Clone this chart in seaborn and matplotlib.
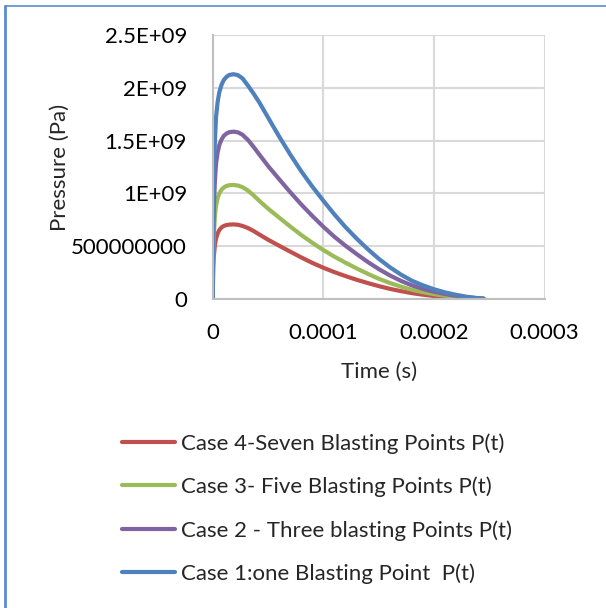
import matplotlib
matplotlib.use('Agg')
import matplotlib.pyplot as plt
import matplotlib.lines as mlines
import seaborn as sns
import pandas as pd

# time in units of 1e-5 s
t_e5 = [0, 0.05, 0.1, 0.2, 0.3, 0.45, 0.6, 0.8, 1.0, 1.25, 1.5, 1.9, 2.3, 2.7, 3.2, 3.7,
        4.2, 5, 6, 7, 8, 9, 10, 11, 12, 13, 14, 15, 16, 17, 18, 19, 20, 21, 22, 23, 24, 24.5]

# pressure in units of 1e9 Pa
case1 = [0, 0.85, 1.15, 1.5, 1.72, 1.87, 1.96, 2.03, 2.075, 2.105, 2.123, 2.13, 2.12, 2.09,
         2.02, 1.945, 1.865, 1.72, 1.54, 1.37, 1.21, 1.065, 0.93, 0.80, 0.68, 0.572, 0.472,
         0.38, 0.30, 0.23, 0.171, 0.127, 0.09, 0.06, 0.037, 0.018, 0.005, 0]
case2 = [0, 0.6, 0.85, 1.12, 1.28, 1.39, 1.46, 1.51, 1.545, 1.567, 1.58, 1.585, 1.578, 1.555,
         1.505, 1.44, 1.37, 1.26, 1.135, 1.012, 0.895, 0.786, 0.683, 0.588, 0.503, 0.425,
         0.35, 0.282, 0.222, 0.17, 0.127, 0.093, 0.066, 0.044, 0.027, 0.013, 0.004, 0]
case3 = [0, 0.42, 0.6, 0.78, 0.88, 0.955, 1.0, 1.035, 1.055, 1.07, 1.077, 1.079, 1.073, 1.058,
         1.025, 0.98, 0.93, 0.855, 0.77, 0.686, 0.605, 0.531, 0.462, 0.399, 0.342, 0.288,
         0.237, 0.19, 0.15, 0.115, 0.085, 0.062, 0.043, 0.028, 0.017, 0.008, 0.002, 0]
case4 = [0, 0.3, 0.4, 0.51, 0.57, 0.62, 0.652, 0.677, 0.69, 0.699, 0.703, 0.705, 0.701, 0.69,
         0.67, 0.642, 0.61, 0.56, 0.503, 0.447, 0.392, 0.34, 0.294, 0.252, 0.215, 0.18,
         0.149, 0.12, 0.094, 0.072, 0.053, 0.038, 0.026, 0.017, 0.01, 0.005, 0.001, 0]

labels = ['Case 4-Seven Blasting Points P(t)',
          'Case 3- Five Blasting Points P(t)',
          'Case 2 - Three blasting Points P(t)',
          'Case 1:one Blasting Point  P(t)']
colors = ['#C0504D', '#9BBB59', '#8064A2', '#4F81BD']

x_ticks = [0, 0.0001, 0.0002, 0.0003]
x_tick_labels = ['0', '0.0001', '0.0002', '0.0003']
y_ticks = [0, 0.5e9, 1e9, 1.5e9, 2e9, 2.5e9]
y_tick_labels = ['0', '500000000', '1E+09', '1.5E+09', '2E+09', '2.5E+09']

rows = []
for lab, vals in zip(labels, [case4, case3, case2, case1]):
    for t, p in zip(t_e5, vals):
        rows.append({'time': t * 1e-5, 'pressure': p * 1e9, 'case': lab})
df = pd.DataFrame(rows)

sns.set_style('white')
plt.rcParams['font.family'] = ['Lato', 'DejaVu Sans']
fs = 16

fig = plt.figure(figsize=(6.06, 6.08), dpi=100)
ax = fig.add_axes([212.7 / 606, 1 - 298.7 / 608, (544.5 - 212.7) / 606, (298.7 - 35.2) / 608])

sns.lineplot(data=df, x='time', y='pressure', hue='case', hue_order=labels,
             palette=colors, linewidth=3, ax=ax, legend=False, estimator=None, sort=False)

ax.set_xlim(0, 0.0003)
ax.set_ylim(0, 2.5e9)
ax.set_xticks(x_ticks)
ax.set_xticklabels(x_tick_labels)
ax.set_yticks(y_ticks)
ax.set_yticklabels(y_tick_labels)
ax.tick_params(axis='both', length=0, labelsize=fs, colors='#000000')
ax.tick_params(axis='x', pad=17.7)
ax.tick_params(axis='y', pad=18.5)
ax.grid(True, color='#d9d9d9', linewidth=1.5)
ax.set_axisbelow(True)
for side in ['top', 'right']:
    ax.spines[side].set_visible(False)
for side in ['left', 'bottom']:
    ax.spines[side].set_color('#bfbfbf')
    ax.spines[side].set_linewidth(1.5)

ax.set_xlabel('Time (s)', fontsize=fs, labelpad=13.6)
ax.set_ylabel('Pressure (Pa)', fontsize=fs)
ax.yaxis.set_label_coords(-(212.7 - 70) / (544.5 - 212.7), 0.5)

handles = [mlines.Line2D([], [], color=c, linewidth=3) for c in colors]
fig.legend(handles, labels, loc='upper left', bbox_to_anchor=(111 / 606, 1 - 422 / 608),
           frameon=False, fontsize=fs, handlelength=2.4, handletextpad=0.23,
           labelspacing=1.03, borderpad=0)

# outer chart border (only top and left visible in the crop)
fig.add_artist(mlines.Line2D([5 / 606, 5 / 606], [0, 1 - 5.5 / 608], color='#5B8BD0', linewidth=2))
fig.add_artist(mlines.Line2D([5 / 606, 1], [1 - 5.5 / 608, 1 - 5.5 / 608], color='#5B8BD0', linewidth=1.2))

fig.savefig('out.png', dpi=100)
